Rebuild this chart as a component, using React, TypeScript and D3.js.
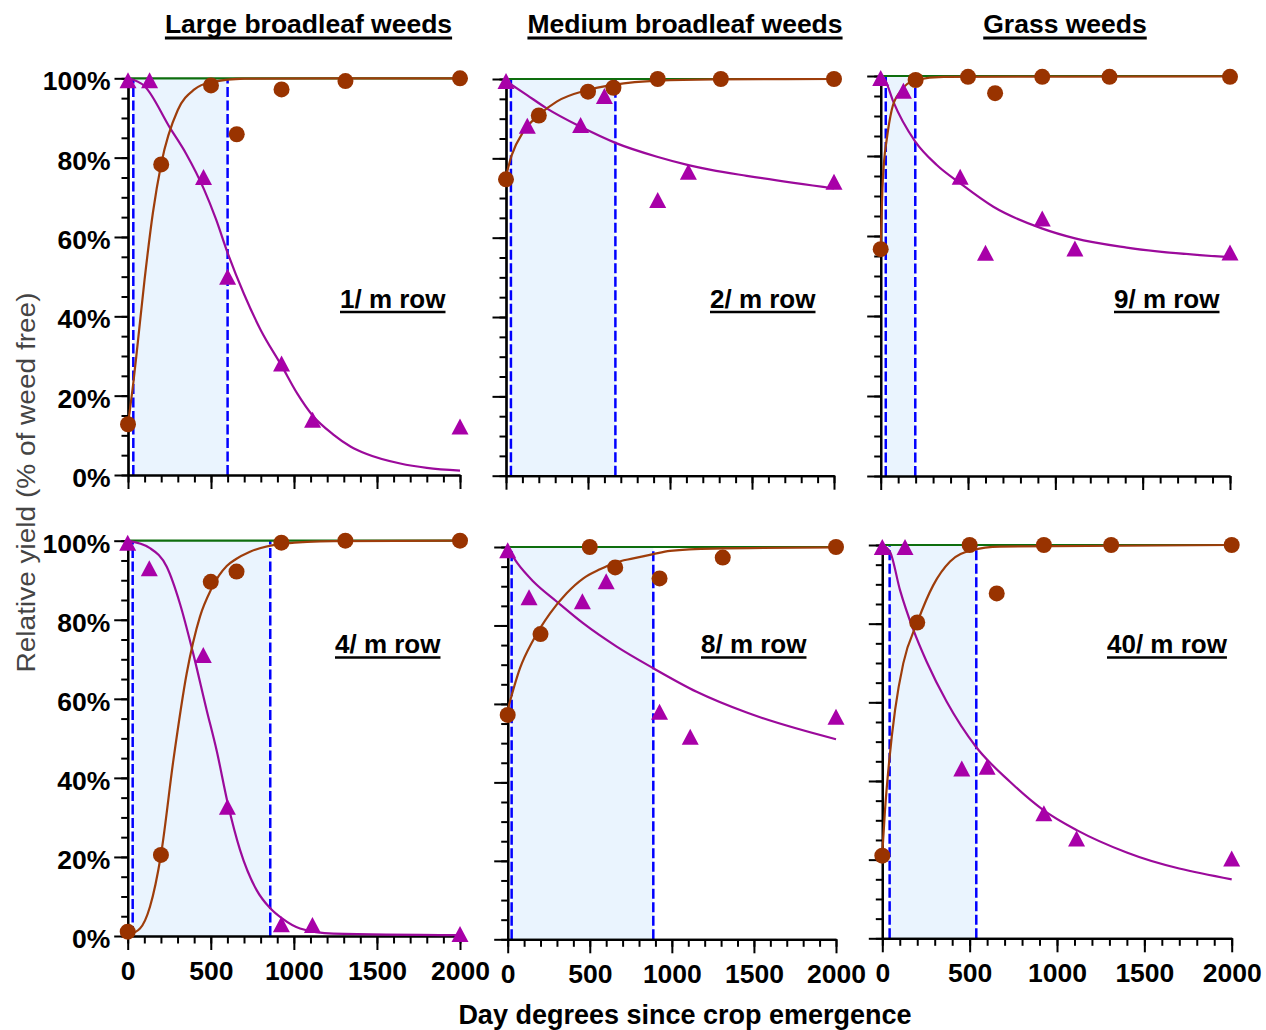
import React, { useEffect, useLayoutEffect, useRef, useState } from "react";
import * as d3 from "d3";

// ---------------- data ----------------
const weedGroups = ["Large broadleaf weeds", "Medium broadleaf weeds", "Grass weeds"];
const densityLabels = ["1/ m row", "2/ m row", "9/ m row", "4/ m row", "8/ m row", "40/ m row"];

// day degrees of the observations
const weedFreeDD = [0, 200, 500, 655, 925, 1310, 2000];
const weedyDD = [0, 130, 455, 600, 925, 1112, 2000];

// observed relative yield (%) – weed-free period (circles)
const weedFreeYield = [
  [12.8, 78.3, 98.2, 85.9, 97.2, 99.3, 100],
  [74.7, 90.8, 96.8, 97.8, 100, 100, 100],
  [56.7, 99, 99.8, 95.7, 99.8, 99.8, 99.8],
  [1.1, 20.5, 89.6, 92.2, 99.5, 100, 100],
  [57.2, 77.8, 100, 94.8, 92, 97.3, 100],
  [21, 80.3, 100, 87.7, 100, 100, 100],
];

// observed relative yield (%) – weedy period (triangles)
const weedyYield = [
  [99.5, 99.5, 75.1, 50, 28.1, 13.9, 12.2],
  [99.5, 88.2, 88.4, 95.7, 69.5, 76.6, 74.1],
  [99.5, 96.3, 74.8, 55.8, 64.4, 56.9, 55.9],
  [99.5, 93, 71.1, 32.7, 3.0, 2.8, 0.5],
  [99.2, 87.2, 86.2, 91.3, 58, 51.6, 56.7],
  [99.5, 99.5, 43.2, 43.6, 31.8, 25.4, 20.3],
];

// fitted curves: [day degrees, %]
const weedFreeFit = [
  [[0, 12.8], [32, 23.2], [50, 29.9], [100, 49.3], [150, 66.1], [200, 78.4], [300, 92], [400, 97.2], [500, 99], [700, 99.9], [2000, 100]],
  [[0, 75.5], [35, 80.8], [106, 86.7], [197, 90.8], [309, 94.3], [496, 97.2], [654, 98.5], [925, 99.6], [1264, 99.9], [2000, 100]],
  [[0, 56.7], [6, 66.5], [10, 72], [20, 79], [34, 84], [63, 91.5], [110, 96], [200, 99], [360, 99.8], [2000, 99.9]],
  [[0, 0.3], [74, 1.9], [134, 7.4], [200, 20.5], [275, 44.5], [355, 66.4], [435, 80.8], [500, 87.5], [550, 91.2], [596, 93.6], [650, 95.3], [736, 97.2], [931, 99.2], [1238, 99.9], [2000, 100]],
  [[0, 58.5], [75, 69.1], [156, 76.3], [258, 83.1], [359, 88.2], [461, 92], [562, 94.3], [654, 96], [765, 97.1], [887, 98.2], [989, 99], [1253, 99.6], [2000, 99.9]],
  [[0, 21.6], [15.5, 32.6], [40, 45.3], [73, 58], [120, 69.9], [200, 80.3], [292, 89.8], [388, 95.8], [508, 98.6], [674, 99.6], [2000, 100]],
];

const weedyFit = [
  [[0, 100], [100, 98], [253, 87.5], [350, 81], [458, 72], [530, 64.5], [600, 56], [700, 45.5], [800, 36.5], [926, 27.5], [1020, 20.5], [1112, 15], [1237, 10.2], [1340, 7.2], [1438, 5.3], [1640, 2.9], [1800, 1.8], [2000, 1.1]],
  [[0, 99.5], [126, 96], [248, 92.6], [453, 88], [667, 83.9], [921, 80.4], [1112, 78.3], [1250, 77.1], [1468, 75.6], [2000, 72.4]],
  [[0, 100], [25, 99], [72, 93.6], [198, 83.6], [321, 77.75], [454, 73.2], [645, 67.3], [922, 61.9], [1113, 59.4], [1409, 57.1], [2000, 54.7]],
  [[0, 100], [134, 98.1], [235, 93.4], [315, 84], [391, 72], [475, 57.2], [536, 46.8], [602, 33.6], [676, 21.8], [776, 11.6], [858, 7], [927, 4.5], [1037, 1.9], [1238, 0.6], [2000, 0.2]],
  [[0, 99.7], [60, 95.8], [156, 91.2], [298, 86.1], [461, 80.5], [664, 74.6], [887, 69.1], [1151, 63.1], [1456, 57.8], [2000, 51]],
  [[0, 100], [44, 98.3], [101, 88.6], [178, 78.4], [254, 70.3], [368, 60.2], [536, 48.7], [731, 39.8], [922, 32.6], [1113, 27.5], [1399, 21.8], [2000, 15]],
];

// critical period for weed control (day degrees)
const cpStart = [32, 30, 29, 30, 24, 42];
const cpEnd = [600, 667, 198, 858, 887, 538];
// weed-free maximum (%)
const maxYield = [100, 100, 100, 100, 100, 100];

const xTicks = [0, 500, 1000, 1500, 2000];
const yTicks = [0, 20, 40, 60, 80, 100];
const xDomain = [0, 2000];
const yDomain = [0, 100];

// ---------------- layout & style ----------------
const FONT = "'Liberation Sans', Arial, Helvetica, sans-serif";
const PANELS = [
  { x0: 128, x1: 460, yTop: 78.3, yBot: 475 },
  { x0: 506, x1: 834, yTop: 79, yBot: 475.7 },
  { x0: 880.7, x1: 1230, yTop: 76, yBot: 476 },
  { x0: 127.7, x1: 460, yTop: 540.7, yBot: 936 },
  { x0: 507.7, x1: 836, yTop: 547, yBot: 939.3 },
  { x0: 882.3, x1: 1231.7, yTop: 545, yBot: 938.3 },
];
const LABEL_POS = [
  { x: 340, y: 307.5 },
  { x: 710, y: 307.5 },
  { x: 1114, y: 307.5 },
  { x: 335, y: 653 },
  { x: 701, y: 653 },
  { x: 1107, y: 653 },
];
const TITLE_POS = [308.5, 685, 1065];

const C_BROWN = "#993300";
const C_BROWN_LINE = "#9E3D0B";
const C_MAG = "#A800A8";
const C_MAG_LINE = "#9B0A9B";
const C_GREEN = "#0E6E0E";
const C_BLUE = "#0000FF";
const C_SHADE = "#EAF4FE";

function UText({ x, y, anchor, size, offset, thick, children }: any) {
  const ref = useRef<SVGTextElement>(null);
  const [w, setW] = useState(0);
  useLayoutEffect(() => {
    if (ref.current) setW(ref.current.getComputedTextLength());
  }, [children]);
  const left = anchor === "middle" ? x - w / 2 : x;
  return (
    <g>
      <text
        ref={ref}
        x={x}
        y={y}
        textAnchor={anchor}
        fontFamily={FONT}
        fontWeight="bold"
        fontSize={size}
        fill="#000"
      >
        {children}
      </text>
      {w > 0 && (
        <line x1={left} x2={left + w} y1={y + offset} y2={y + offset} stroke="#000" strokeWidth={thick} />
      )}
    </g>
  );
}

function Panel({ i }: { i: number }) {
  const L = PANELS[i];
  const x = d3.scaleLinear().domain(xDomain).range([L.x0, L.x1]);
  const y = d3.scaleLinear().domain(yDomain).range([L.yBot, L.yTop]);
  const line = d3
    .line<number[]>()
    .x((d) => x(d[0]))
    .y((d) => y(d[1]))
    .curve(d3.curveMonotoneX);
  const axRef = useRef<SVGGElement>(null);

  useEffect(() => {
    const g = d3.select(axRef.current);
    g.selectAll("*").remove();
    const showY = i % 3 === 0;
    const showX = i >= 3;
    g.append("g")
      .attr("transform", `translate(0,${L.yBot})`)
      .call(d3.axisBottom(x).tickValues(d3.range(0, 2001, 100)).tickSize(7.5).tickSizeOuter(0).tickFormat(() => ""));
    g.append("g")
      .attr("class", "xmaj")
      .attr("transform", `translate(0,${L.yBot})`)
      .call(
        d3
          .axisBottom(x)
          .tickValues(xTicks)
          .tickSize(14)
          .tickSizeOuter(0)
          .tickPadding(11)
          .tickFormat(showX ? (d: any) => String(d) : () => "")
      );
    g.append("g")
      .attr("transform", `translate(${L.x0},0)`)
      .call(d3.axisLeft(y).tickValues(d3.range(0, 101, 5)).tickSize(6.5).tickSizeOuter(0).tickFormat(() => ""));
    g.append("g")
      .attr("class", "ymaj")
      .attr("transform", `translate(${L.x0},0)`)
      .call(
        d3
          .axisLeft(y)
          .tickValues(yTicks)
          .tickSize(13.5)
          .tickSizeOuter(0)
          .tickPadding(4)
          .tickFormat(showY ? (d: any) => d + "%" : () => "")
      );
    g.selectAll("path.domain").attr("stroke", "#000").attr("stroke-width", 2.2);
    g.selectAll(".tick line").attr("stroke", "#000").attr("stroke-width", 2);
    g.selectAll(".tick text")
      .attr("fill", "#000")
      .attr("font-family", FONT)
      .attr("font-size", 26.5)
      .attr("font-weight", "bold");
    g.selectAll(".ymaj .tick text").attr("dy", "0.44em");
  }, [i]);

  const tri = "M0,-8 L8.5,8 L-8.5,8 Z";

  return (
    <g>
      <rect
        x={x(cpStart[i])}
        y={y(100)}
        width={x(cpEnd[i]) - x(cpStart[i])}
        height={y(0) - y(100)}
        fill={C_SHADE}
      />
      {[cpStart[i], cpEnd[i]].map((v, k) => (
        <line
          key={k}
          x1={x(v)}
          x2={x(v)}
          y1={y(0)}
          y2={y(100)}
          stroke={C_BLUE}
          strokeWidth={2.5}
          strokeDasharray="10 3.5"
        />
      ))}
      <line x1={x(0)} x2={x(2000)} y1={y(maxYield[i])} y2={y(maxYield[i])} stroke={C_GREEN} strokeWidth={2.2} />
      <g ref={axRef} />
      <path d={line(weedyFit[i]) || ""} fill="none" stroke={C_MAG_LINE} strokeWidth={2.2} />
      <path d={line(weedFreeFit[i]) || ""} fill="none" stroke={C_BROWN_LINE} strokeWidth={2.2} />
      {weedyYield[i].map((v, k) => (
        <path key={"t" + k} d={tri} transform={`translate(${x(weedyDD[k])},${y(v)})`} fill={C_MAG} />
      ))}
      {weedFreeYield[i].map((v, k) => (
        <circle key={"c" + k} cx={x(weedFreeDD[k])} cy={y(v)} r={8} fill={C_BROWN} />
      ))}
      <UText x={LABEL_POS[i].x} y={LABEL_POS[i].y} anchor="start" size={26} offset={4.5} thick={2.6}>
        {densityLabels[i]}
      </UText>
    </g>
  );
}

export default function App() {
  return (
    <svg
      width={1266}
      height={1030}
      style={{ position: "absolute", left: 0, top: 0, background: "#fff" }}
    >
      <rect x={0} y={0} width={1266} height={1030} fill="#fff" />
      {weedGroups.map((t, k) => (
        <UText key={t} x={TITLE_POS[k]} y={33} anchor="middle" size={26.5} offset={5} thick={3}>
          {t}
        </UText>
      ))}
      {PANELS.map((_, i) => (
        <Panel key={i} i={i} />
      ))}
      <text
        transform="translate(35,482.5) rotate(-90)"
        textAnchor="middle"
        fontFamily={FONT}
        fontSize={25}
        fill="#444"
        textLength={380}
        lengthAdjust="spacingAndGlyphs"
      >
        Relative yield (% of weed free)
      </text>
      <text
        x={685}
        y={1024}
        textAnchor="middle"
        fontFamily={FONT}
        fontWeight="bold"
        fontSize={27}
        fill="#000"
      >
        Day degrees since crop emergence
      </text>
    </svg>
  );
}
